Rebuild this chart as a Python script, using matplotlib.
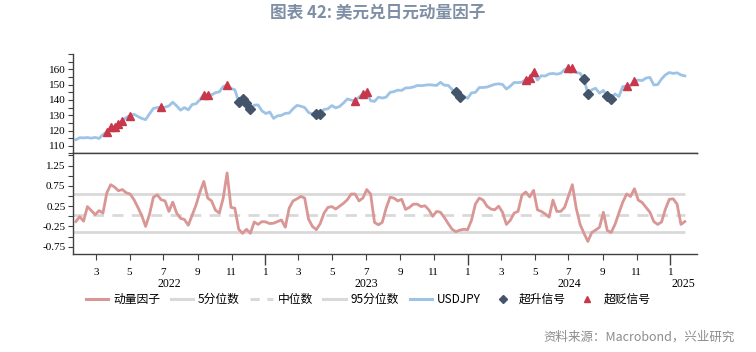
import matplotlib
matplotlib.use("Agg")
import matplotlib.pyplot as plt
import matplotlib.dates as mdates
import matplotlib.transforms as mtransforms
from matplotlib.lines import Line2D
import numpy as np
import pandas as pd

# ---------------- data ----------------
start_date = "2022-01-24"
usdjpy = [
    114.0, 115.3, 115.2, 115.4, 115.0, 115.5, 114.8, 117.3, 119.2, 122.0,
    122.5, 124.3, 126.4, 128.5, 129.8, 130.6, 129.2, 127.9, 127.1, 130.9,
    134.4, 135.0, 135.2, 135.2, 136.1, 138.5, 136.1, 133.3, 135.0, 133.5,
    137.0, 137.5, 140.2, 143.5, 143.5, 143.3, 144.7, 145.3, 148.7, 149.8,
    147.5, 146.6, 138.8, 140.4, 138.3, 134.3, 136.6, 136.7, 132.8, 131.1,
    132.1, 127.9, 129.6, 129.9, 131.2, 131.4, 134.2, 136.4, 135.9, 135.0,
    131.8, 130.7, 130.8, 130.9, 133.8, 134.2, 136.3, 134.8, 135.7, 138.0,
    140.6, 139.9, 139.4, 141.8, 143.7, 145.0, 139.5, 139.0, 141.8, 141.2,
    141.8, 144.9, 145.4, 146.4, 146.2, 147.8, 147.9, 148.4, 149.4, 149.3,
    149.6, 149.9, 149.7, 149.4, 151.5, 149.6, 149.5, 146.8, 144.9, 142.2,
    142.4, 141.0, 144.6, 144.9, 148.1, 148.1, 148.4, 149.3, 150.2, 150.5,
    150.1, 147.1, 149.0, 151.4, 151.3, 151.6, 153.3, 154.6, 158.3, 153.0,
    155.8, 155.6, 157.0, 157.3, 156.8, 157.4, 159.8, 160.9, 160.8, 157.9,
    157.4, 153.7, 144.0, 146.6, 147.6, 144.4, 146.2, 142.3, 140.8, 143.9,
    142.2, 148.7, 149.1, 149.5, 152.3, 153.0, 152.6, 154.3, 154.7, 149.8,
    150.0, 153.7, 156.4, 157.9, 157.3, 157.7, 156.3, 155.7,
]
momentum = [
    -0.13, -0.01, -0.12, 0.24, 0.14, 0.04, 0.14, 0.08, 0.58, 0.78,
    0.72, 0.63, 0.66, 0.58, 0.55, 0.41, 0.22, 0.02, -0.25, 0.05,
    0.47, 0.53, 0.41, 0.38, 0.12, 0.35, 0.08, -0.05, -0.08, -0.22,
    0.03, 0.28, 0.60, 0.86, 0.45, 0.38, 0.15, 0.08, 0.45, 1.07,
    0.22, 0.20, -0.32, -0.42, -0.32, -0.42, -0.14, -0.20, -0.13, -0.14,
    -0.18, -0.17, -0.13, -0.09, -0.27, 0.20, 0.38, 0.43, 0.49, 0.45,
    -0.07, -0.25, -0.33, -0.18, 0.08, 0.22, 0.24, 0.18, 0.25, 0.32,
    0.41, 0.55, 0.55, 0.38, 0.45, 0.66, 0.55, -0.15, -0.21, -0.15,
    0.20, 0.47, 0.45, 0.38, 0.42, 0.17, 0.22, 0.30, 0.30, 0.24,
    0.26, 0.16, 0.00, 0.12, 0.10, -0.03, -0.18, -0.32, -0.38, -0.34,
    -0.32, -0.33, -0.10, 0.30, 0.45, 0.40, 0.25, 0.18, 0.16, 0.25,
    0.10, -0.20, -0.10, 0.08, 0.12, 0.52, 0.60, 0.48, 0.64, 0.16,
    0.12, 0.06, -0.02, 0.40, 0.12, 0.12, 0.22, 0.50, 0.78, 0.20,
    -0.20, -0.42, -0.62, -0.40, -0.34, -0.27, 0.10, -0.35, -0.40, -0.20,
    0.08, 0.35, 0.55, 0.49, 0.68, 0.40, 0.34, 0.22, 0.10, -0.13,
    -0.20, -0.14, 0.18, 0.42, 0.43, 0.30, -0.20, -0.13,
]
p05, p50, p95 = -0.38, 0.03, 0.555
# weekly indices where signals fire
appreciation_idx = [42, 43, 44, 45, 62, 63, 98, 99, 131, 132, 137, 138]   # 超升信号
depreciation_idx = [8, 9, 10, 11, 12, 14, 22, 33, 34, 39, 72, 74, 75,
                    116, 117, 118, 127, 128, 142, 144]                      # 超贬信号
years = [2022, 2023, 2024, 2025]

dates = pd.date_range(start_date, periods=len(usdjpy), freq="7D")
usdjpy = np.array(usdjpy)
momentum = np.array(momentum)

# ---------------- style ----------------
plt.rcParams["font.family"] = ["Liberation Serif", "DejaVu Sans"]
cjk = ["Noto Sans CJK SC", "DejaVu Sans"]
c_fx = "#9dc3e6"
c_mom = "#d99694"
c_pct = "#d9d9d9"
c_up = "#44546a"
c_dn = "#c8374a"
c_spine = "#404040"

fig = plt.figure(figsize=(7.56, 3.52), dpi=100)
ax1 = fig.add_axes([0.0966, 0.5640, 0.8254, 0.2826])
ax2 = fig.add_axes([0.0966, 0.2784, 0.8254, 0.2856], sharex=ax1)

xmin = pd.Timestamp("2022-01-19")
xmax = pd.Timestamp("2025-02-18")

# top panel
ax1.plot(dates, usdjpy, color=c_fx, lw=2.0, zorder=2)
ax1.plot(dates[appreciation_idx], usdjpy[appreciation_idx], ls="none", marker="D",
         ms=4.6, color=c_up, zorder=3)
ax1.plot(dates[depreciation_idx], usdjpy[depreciation_idx], ls="none", marker="^",
         ms=6.0, color=c_dn, zorder=3)
ax1.set_ylim(105, 170)
ax1.set_yticks(np.arange(110, 161, 10))
ax1.set_yticks(np.arange(105, 171, 5), minor=True)
for s in ["top", "right"]:
    ax1.spines[s].set_visible(False)
for s in ["left", "bottom"]:
    ax1.spines[s].set_color(c_spine)
    ax1.spines[s].set_linewidth(1.0)
ax1.tick_params(axis="y", which="both", direction="out", length=3.5, width=0.8,
                color=c_spine, labelsize=8, pad=2)
ax1.tick_params(axis="x", which="both", bottom=False, labelbottom=False)

# bottom panel
ax2.plot(dates, momentum, color=c_mom, lw=2.0, zorder=3)
ax2.hlines([p05, p95], dates[0] - pd.Timedelta(days=5), dates[-1], color=c_pct, lw=2.0, zorder=1)
ax2.hlines([p50], dates[0] - pd.Timedelta(days=5), dates[-1], color=c_pct, lw=2.0,
           linestyles=(0, (4, 3)), zorder=1)
ax2.set_ylim(-0.93, 1.55)
ax2.set_yticks([1.25, 0.75, 0.25, -0.25, -0.75])
ax2.set_yticklabels(["1.25", "0.75", "0.25", "-0.25", "-0.75"])
ax2.set_yticks([1.5, 1.0, 0.5, 0.0, -0.5], minor=True)
ax2.spines["right"].set_visible(False)
for s in ["left", "bottom", "top"]:
    ax2.spines[s].set_color(c_spine)
    ax2.spines[s].set_linewidth(1.0)
ax2.tick_params(axis="y", which="both", direction="out", length=3.5, width=0.8,
                color=c_spine, labelsize=8, pad=2)

ax2.set_xlim(xmin, xmax)
ax2.xaxis.set_major_locator(mdates.MonthLocator(bymonth=[1]))
ax2.xaxis.set_minor_locator(mdates.MonthLocator(bymonth=[3, 5, 7, 9, 11]))
month_fmt = plt.FuncFormatter(lambda v, p: str(mdates.num2date(v).month))
ax2.xaxis.set_major_formatter(month_fmt)
ax2.xaxis.set_minor_formatter(month_fmt)
ax2.tick_params(axis="x", which="major", direction="out", length=8, width=1.0,
                color=c_spine, labelsize=8, pad=2)
ax2.tick_params(axis="x", which="minor", direction="out", length=4, width=0.8,
                color=c_spine, labelsize=8, pad=6)

# year labels centred on visible part of each year
trans = mtransforms.blended_transform_factory(ax2.transData, ax2.transAxes)
for y in years:
    a = max(pd.Timestamp(f"{y}-01-01"), xmin)
    b = min(pd.Timestamp(f"{y+1}-01-01"), xmax)
    mid = a + (b - a) / 2
    ax2.text(mdates.date2num(mid), -0.30, str(y), transform=trans, ha="center",
             va="center", fontsize=8.5, color="black")

# legend
handles = [
    Line2D([], [], color=c_mom, lw=2.2),
    Line2D([], [], color=c_pct, lw=2.2),
    Line2D([], [], color=c_pct, lw=2.2, ls=(0, (3, 2.5))),
    Line2D([], [], color=c_pct, lw=2.2),
    Line2D([], [], color=c_fx, lw=2.2),
    Line2D([], [], color=c_up, marker="D", ls="none", ms=4),
    Line2D([], [], color=c_dn, marker="^", ls="none", ms=5),
]
labels = ["动量因子", "5分位数", "中位数", "95分位数", "USDJPY", "超升信号", "超贬信号"]
fig.legend(handles, labels, loc="center", bbox_to_anchor=(0.487, 0.150), ncol=7,
           frameon=False, prop={"family": cjk, "size": 8.5}, handlelength=1.9,
           handletextpad=0.4, columnspacing=0.9, borderpad=0)

# title and source
fig.text(0.5, 0.962, "图表 42: 美元兑日元动量因子", ha="center", va="center",
         fontsize=12, fontweight="bold", color="#7f8fa6", family=cjk)
fig.text(0.972, 0.043, "资料来源：Macrobond，兴业研究", ha="right", va="center",
         fontsize=9, color="#8c8c8c", family=cjk)

fig.savefig("out.png", dpi=100)
